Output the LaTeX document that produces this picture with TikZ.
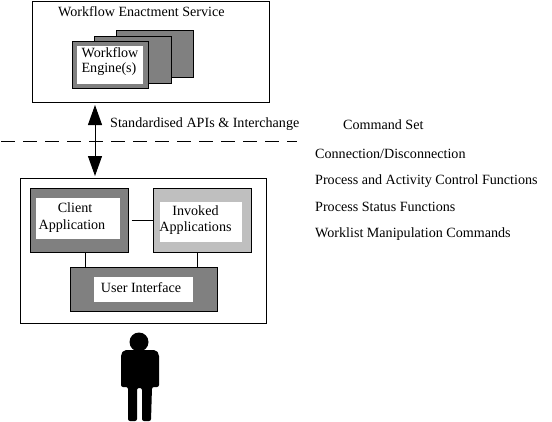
\documentclass[tikz,border=0pt]{standalone}
\usepackage{fontspec}
\setmainfont{Liberation Serif}
\usetikzlibrary{arrows.meta}
\tikzset{
	panel/.style={draw=black,line width=1pt,fill=white,inner sep=0pt},
	darkbox/.style={draw=black,line width=1pt,fill=black!50,inner sep=0pt},
	lightbox/.style={draw=black,line width=1pt,fill=black!25,inner sep=0pt},
	labelbox/.style={fill=white,inner sep=0pt,align=center},
	caption/.style={inner sep=0pt,anchor=west},
	link/.style={black,line width=1pt}
}
\begin{document}
\begin{tikzpicture}[x=1pt,y=-1pt,font=\fontsize{14.1}{15}\selectfont]
	\useasboundingbox (0,0) rectangle (552,421);
	% upper part
	\node[panel,minimum width=237pt,minimum height=101pt] (service) at (150.5,51.5) {};
	\node[caption] (serviceName) at (58,12) {Workflow Enactment Service};
	\node[darkbox,minimum width=77pt,minimum height=47pt] (engineC) at (154.5,53.5) {};
	\node[darkbox,minimum width=77pt,minimum height=47pt] (engineB) at (132.5,59.5) {};
	\node[darkbox,minimum width=76pt,minimum height=47pt] (engineA) at (110,64.5) {};
	\node[labelbox,minimum width=66pt,minimum height=38pt] (engineText) at (110,65) {};
	\node[inner sep=0pt,align=left] (engineName) at (110,61.5) {Workflow\\Engine(s)};
	% lower part
	\node[panel,minimum width=246pt,minimum height=145pt] (client) at (143.5,250.5) {};
	\node[darkbox,minimum width=98pt,minimum height=64pt] (clientApp) at (79,220) {};
	\node[labelbox,minimum width=84pt,minimum height=41pt] (clientText) at (78,218.5) {};
	\node[inner sep=0pt,align=center] (clientName) at (72,217.5) {\hspace{6pt}Client\\[2.5pt]Application};
	\node[lightbox,minimum width=98pt,minimum height=64pt] (invoked) at (202,220) {};
	\node[labelbox,minimum width=82pt,minimum height=40pt] (invokedText) at (201,222) {};
	\node[inner sep=0pt,align=center] (invokedName) at (195.5,220) {Invoked\\[1pt]Applications};
	\node[darkbox,minimum width=147pt,minimum height=44pt] (interface) at (143.5,289) {};
	\node[labelbox,minimum width=99pt,minimum height=25pt] (interfaceText) at (143.5,289.5) {};
	\node[inner sep=0pt] (interfaceName) at (141,287.5) {User Interface};
	\draw[link,shorten <=3pt] (clientApp.east) -- (invoked.west);
	\draw[link] ([xshift=6pt]clientApp.south) -- ([xshift=6pt]clientApp.south |- interface.north);
	\draw[link] ([xshift=-5pt]invoked.south) -- ([xshift=-5pt]invoked.south |- interface.north);
	% interchange
	\coordinate (lineL) at (1,141);
	\coordinate (lineR) at (297,141);
	\coordinate (apiT) at (95,102);
	\coordinate (apiB) at (95,178);
	\draw[link,dash pattern=on 14pt off 8pt] (lineL) -- (lineR);
	\draw[link,{Triangle[length=20pt,width=14pt]}-{Triangle[length=20pt,width=14pt]},shorten <=3pt,shorten >=2pt] (apiT) -- (apiB);
	\node[caption] (apiName) at (110,124.5) {Standardised APIs \& Interchange};
	\node[caption] (commandSet) at (343,124.5) {Command Set};
	\node[caption] (cmdA) at (315,153.5) {Connection/Disconnection};
	\node[caption] (cmdB) at (315,181) {Process and Activity Control Functions};
	\node[caption] (cmdC) at (315,206.5) {Process Status Functions};
	\node[caption] (cmdD) at (315,234.5) {Worklist Manipulation Commands};
	% user
	\fill[black] (139,342) circle (9.5);
	\fill[black,rounded corners=2pt] (121,387) -- (121,354) -- (124,350) -- (156,350) -- (159,354) -- (159,387) -- (152,387) -- (151,421) -- (142,421) -- (142,388) -- (137,388) -- (137,421) -- (128,421) -- (128,387) -- cycle;
\end{tikzpicture}
\end{document}
